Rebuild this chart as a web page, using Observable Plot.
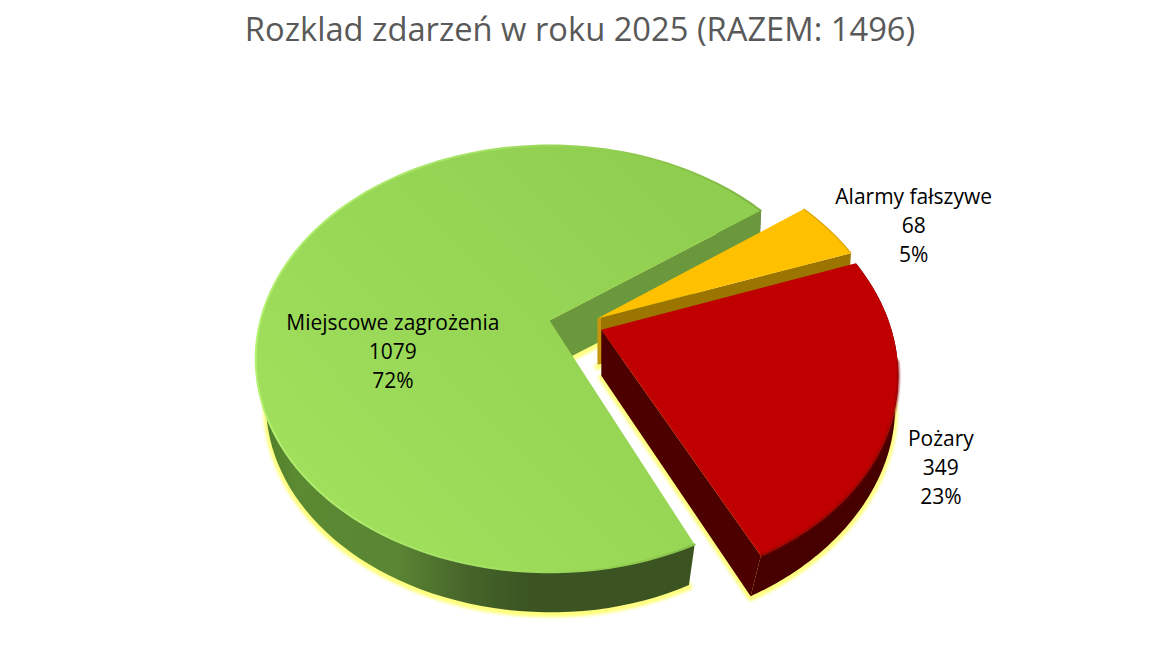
<!DOCTYPE html>
<html lang="pl">
<head>
<meta charset="utf-8">
<script src="https://cdn.jsdelivr.net/npm/d3@7"></script>
<script src="https://cdn.jsdelivr.net/npm/@observablehq/plot@0.6"></script>
<style>
html,body{margin:0;padding:0;background:#fff;overflow:hidden}
#title{height:60px;line-height:57px;text-align:center;padding-right:10px;font-family:"Open Sans",sans-serif;font-size:32.7px;color:#595959;white-space:nowrap}
svg{display:block}
g[stroke="#ffff80"]{filter:blur(1.5px)}
g[stroke^="url"],g[stroke="#d9a400"]{filter:blur(.6px)}
g[stroke="#8f0000"]{filter:blur(1px)}
</style>
</head>
<body>
<div id="title">Rozklad zdarzeń w roku 2025 (RAZEM: 1496)</div>
<div id="chart"></div>
<script>
// Data, clockwise from the first slice
const categories = ["Alarmy fałszywe", "Pożary", "Miejscowe zagrożenia"];
const counts = [68, 349, 1079];
const percents = [5, 23, 72];

// Scene set-up: a disc seen in perspective, with exploded slices
const firstAngle = 54;
const cam = {cx: 549, cy: 320, R: 289, S: 206.5, k: 0.18};
const depth = {vx: 600, fxRight: 0.064, fxLeft: 0.03, fy: 0.025, y0: 330, h: 46, span: 226};
const explode = [[0.166, 0.01], [0.174, -0.044], [0, 0]];
const apexNudge = [0, 0.004, 0];
const startTrim = [0, 0, 0.8];
const labelPolar = [[1.31, 5.3], [1.18, 7], [0.546, -28.6]];

const total = d3.sum(counts);
const project = (u, v) => {
  const w = 1 + cam.k * v;
  return {x: cam.cx + cam.R * u / w, y: cam.cy - cam.S * v / w};
};
const lower = (p) => ({
  x: p.x > depth.vx
    ? p.x - depth.fxRight * (p.x - depth.vx) * Math.max(p.y - depth.y0, 40) / depth.span
    : p.x - depth.fxLeft * (p.x - depth.vx),
  y: p.y + depth.h - depth.fy * (p.y - depth.y0)
});
const rad = (a) => a * Math.PI / 180;

let running = firstAngle;
const slices = categories.map((name, i) => {
  const a0 = running, a1 = running + counts[i] / total * 360;
  running = a1;
  const [ou, ov] = explode[i];
  const at = (a, r = 1) => project(ou + r * Math.sin(rad(a)), ov + r * Math.cos(rad(a)));
  const from = a0 + startTrim[i];
  const arc = d3.range(0, 121).map((s) => at(from + (a1 - from) * s / 120));
  const apex = project(ou + apexNudge[i], ov);
  const [lr, da] = labelPolar[i];
  return {name, i, a0, a1, arc, apex, at,
    label: {...at((a0 + a1) / 2 + da, lr), text: `${name}\n${counts[i]}\n${percents[i]}%`}};
});

const poly = (pts, fill, extra = {}) =>
  Plot.line(pts, {x: "x", y: "y", fill, stroke: "none", ...extra});
const wallStrip = (arc) => [...arc, ...arc.map(lower).reverse()];
const sideWall = (apex, edge) => [apex, edge, lower(edge), lower(apex)];
const [alarm, fire, local] = slices;
const topFace = (s) => [s.apex, ...s.arc];
const bottomFace = (s) => topFace(s).map(lower);

const defs = () => {
  const g = document.createElementNS("http://www.w3.org/2000/svg", "defs");
  g.innerHTML = `
    <linearGradient id="greenTop" x1="0.1" y1="0.85" x2="0.9" y2="0.2">
      <stop offset="0" stop-color="#a0e05c"/><stop offset="1" stop-color="#90ce50"/>
    </linearGradient>
    <linearGradient id="greenWall" x1="0" y1="0" x2="1" y2="0">
      <stop offset="0" stop-color="#4e7c2a"/><stop offset="0.08" stop-color="#5a8a32"/>
      <stop offset="0.28" stop-color="#5a8533"/><stop offset="0.41" stop-color="#47662a"/>
      <stop offset="0.54" stop-color="#3b5422"/><stop offset="1" stop-color="#3a5320"/>
    </linearGradient>
    <linearGradient id="greenRim" x1="0" y1="0" x2="1" y2="0">
      <stop offset="0" stop-color="#b4f070"/><stop offset="0.45" stop-color="#a4e264"/>
      <stop offset="0.8" stop-color="#8cc64c"/><stop offset="1" stop-color="#7fb444"/>
    </linearGradient>
    <linearGradient id="alarmWall" x1="0" y1="0" x2="1" y2="0">
      <stop offset="0.014" stop-color="#c8950f"/><stop offset="0.014" stop-color="#9c7500"/>
    </linearGradient>`;
  return g;
};

const plot = Plot.plot({
  width: 1170,
  height: 604,
  margin: 0,
  x: {domain: [0, 1170], range: [0, 1170], axis: null},
  y: {domain: [60, 664], range: [0, 604], axis: null},
  marks: [
    defs,
    // yellow glow beneath the solids
    ...slices.map((s) => Plot.line([...bottomFace(s), lower(s.apex)], {
      x: "x", y: "y", stroke: "#ffff80", strokeWidth: 6, fill: "#ffff80", dy: 2
    })),
    // green solid
    poly(wallStrip(local.arc), "url(#greenWall)"),
    poly(sideWall(local.apex, local.arc[120]), "#6b983c"),
    poly(topFace(local), "url(#greenTop)"),
    Plot.line(local.arc, {x: "x", y: "y", stroke: "url(#greenRim)", strokeWidth: 2}),
    // alarm solid
    poly(sideWall(alarm.apex, alarm.arc[120]), "url(#alarmWall)"),
    poly(topFace(alarm), "#ffc000"),
    Plot.line(alarm.arc, {x: "x", y: "y", stroke: "#d9a400", strokeWidth: 1.2}),
    // fire solid
    poly(sideWall(fire.apex, fire.arc[120]), "#4d0000"),
    poly(wallStrip(fire.arc), "#470000"),
    poly(topFace(fire), "#c00000"),
    Plot.line(fire.arc.slice(40), {x: "x", y: "y", stroke: "#8f0000", strokeWidth: 2}),
    // labels
    Plot.text(slices.map((s) => s.label), {
      x: "x", y: "y", text: "text", fill: "#000", fontSize: 21,
      fontFamily: "'Open Sans', sans-serif", lineHeight: 1.38, textAnchor: "middle", lineAnchor: "middle"
    })
  ]
});
document.getElementById("chart").append(plot);
</script>
</body>
</html>
